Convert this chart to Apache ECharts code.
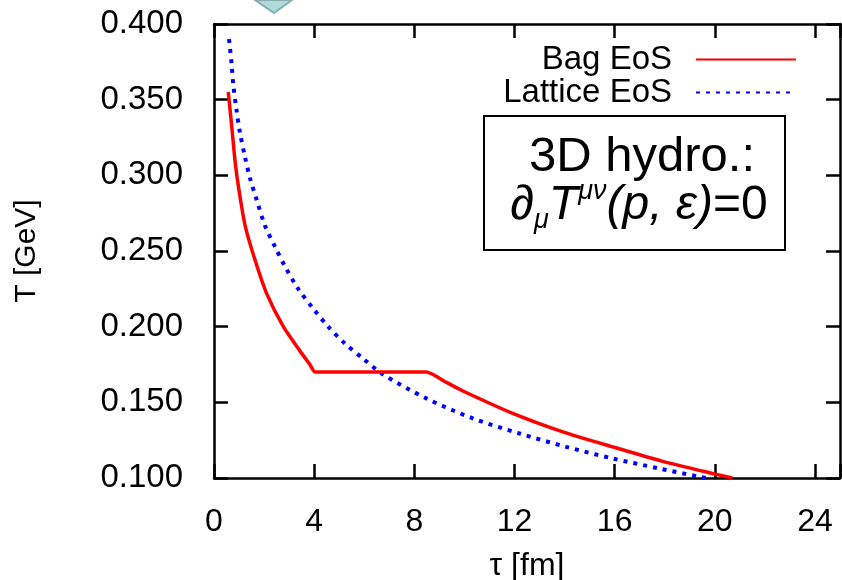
<!DOCTYPE html>
<html>
<head>
<meta charset="utf-8">
<script src="https://cdn.jsdelivr.net/npm/echarts@6/dist/echarts.min.js"></script>
<style>
html, body { margin: 0; padding: 0; background: #fff; }
#main { width: 842px; height: 580px; }
</style>
</head>
<body>
<div id="main"></div>
<script>
// Bag EoS (red, solid)
var bagTau = [0.57, 0.71, 0.85, 1.0, 1.24, 1.64, 2.1, 2.77, 3.43, 3.83, 4.03, 4.3, 8.2, 8.48, 9.3, 9.94, 11.93, 13.93, 15.92, 17.92, 19.91, 20.7];
var bagT   = [0.355, 0.332, 0.308, 0.290, 0.267, 0.244, 0.222, 0.200, 0.184, 0.175, 0.170, 0.170, 0.170, 0.170, 0.1630, 0.1575, 0.1427, 0.1305, 0.1206, 0.1110, 0.1030, 0.100];

// Lattice EoS (blue, dotted)
var latTau = [0.6, 0.7, 0.77, 0.9, 1.04, 1.24, 1.44, 1.7, 2.03, 2.43, 2.83, 3.36, 3.96, 4.56, 5.22, 5.95, 6.7, 8.48, 10.34, 12.2, 14.06, 15.92, 17.78, 19.38, 19.64];
var latT   = [0.390, 0.374, 0.360, 0.343, 0.328, 0.312, 0.298, 0.284, 0.267, 0.253, 0.240, 0.225, 0.212, 0.200, 0.189, 0.179, 0.169, 0.1526, 0.1394, 0.1294, 0.1206, 0.1129, 0.1063, 0.1008, 0.100];

// axis ranges / ticks
var tauMin = 0, tauMax = 25, tauStep = 4;
var tMin = 0.1, tMax = 0.4, tStep = 0.05;

var seriesNames = ['Bag EoS', 'Lattice EoS'];

var font = '"Liberation Sans", Arial, sans-serif';

function pairs(xs, ys) {
    return xs.map(function (x, i) { return [x, ys[i]]; });
}

var chart = echarts.init(document.getElementById('main'));

var axisLine = { show: true, onZero: false, lineStyle: { color: '#000', width: 2.5 } };
var axisTick = { show: true, inside: true, length: 14, lineStyle: { color: '#000', width: 2.5 } };

function legendFor(name, top) {
    return {
        data: [name], orient: 'vertical', align: 'right',
        right: 40, top: top, itemWidth: 100, itemHeight: 14,
        itemStyle: { opacity: 0 },
        textStyle: { fontSize: 33, color: '#000', fontFamily: font, padding: [0, 19, 0, 0] }
    };
}

var option = {
    animation: false,
    backgroundColor: '#fff',
    grid: { left: 214, right: 2, top: 24, bottom: 102, outerBoundsMode: 'none' },
    legend: [legendFor(seriesNames[0], 38), legendFor(seriesNames[1], 71)],
    xAxis: [
        {
            type: 'value', position: 'bottom', min: tauMin, max: tauMax, interval: tauStep,
            name: 'τ [fm]', nameLocation: 'middle', nameGap: 72,
            nameTextStyle: { fontSize: 32, color: '#000', fontFamily: font },
            axisLine: axisLine, axisTick: axisTick,
            axisLabel: {
                margin: 28, fontSize: 32, color: '#000', fontFamily: font,
                formatter: function (v) { return v > 24 ? '' : String(v); }
            },
            splitLine: { show: false }
        },
        {
            type: 'value', position: 'top', min: tauMin, max: tauMax, interval: tauStep,
            axisLine: axisLine, axisTick: axisTick,
            axisLabel: { show: false }, splitLine: { show: false }
        }
    ],
    yAxis: [
        {
            type: 'value', position: 'left', min: tMin, max: tMax, interval: tStep,
            name: 'T [GeV]', nameLocation: 'middle', nameGap: 172,
            nameTextStyle: { fontSize: 30, color: '#000', fontFamily: font },
            axisLine: axisLine, axisTick: axisTick,
            axisLabel: {
                margin: 31, fontSize: 33, color: '#000', fontFamily: font,
                formatter: function (v) { return v.toFixed(3); }
            },
            splitLine: { show: false }
        },
        {
            type: 'value', position: 'right', min: tMin, max: tMax, interval: tStep,
            axisLine: axisLine, axisTick: axisTick,
            axisLabel: { show: false }, splitLine: { show: false }
        }
    ],
    series: [
        {
            name: seriesNames[0], type: 'line', data: pairs(bagTau, bagT),
            symbol: 'none', smooth: 0.2,
            lineStyle: { color: '#ff0000', width: 3.5 },
            itemStyle: { color: '#ff0000' },
            z: 3
        },
        {
            name: seriesNames[1], type: 'line', data: pairs(latTau, latT),
            symbol: 'none', smooth: 0.3,
            lineStyle: { color: '#0000ff', width: 4, type: [4, 6] },
            itemStyle: { color: '#0000ff' },
            z: 2
        }
    ],
    graphic: [
        {
            type: 'polygon',
            shape: { points: [[255, 0], [292, 0], [274, 13]] },
            style: { fill: '#aedcdc', stroke: '#8aaeae', lineWidth: 2 }
        },
        {
            type: 'rect',
            shape: { x: 484, y: 116, width: 301, height: 134 },
            style: { fill: '#fff', stroke: '#000', lineWidth: 2 },
            z: 10
        },
        {
            type: 'text', z: 11,
            style: {
                text: '3D hydro.:', x: 642, y: 157,
                fontSize: 49, fontFamily: font, fill: '#000',
                align: 'center', verticalAlign: 'middle',
                textAlign: 'center', textVerticalAlign: 'middle'
            }
        },
        {
            type: 'text', z: 11,
            style: {
                text: '{i|∂}{sub|μ}{i|T}{sup|μν}{i|(p, ε)}{n|=0}', x: 639, y: 206,
                fontSize: 48, fontFamily: font, fill: '#000',
                align: 'center', verticalAlign: 'middle',
                textAlign: 'center', textVerticalAlign: 'middle',
                rich: {
                    i: { fontSize: 48, lineHeight: 56, fontStyle: 'italic', fontFamily: font, fill: '#000' },
                    n: { fontSize: 48, lineHeight: 56, fontFamily: font, fill: '#000' },
                    sub: { fontSize: 27, lineHeight: 18, fontStyle: 'italic', fontFamily: font, fill: '#000', verticalAlign: 'bottom' },
                    sup: { fontSize: 27, lineHeight: 36, fontStyle: 'italic', fontFamily: font, fill: '#000', verticalAlign: 'top' }
                }
            }
        }
    ]
};

chart.setOption(option);
</script>
</body>
</html>
